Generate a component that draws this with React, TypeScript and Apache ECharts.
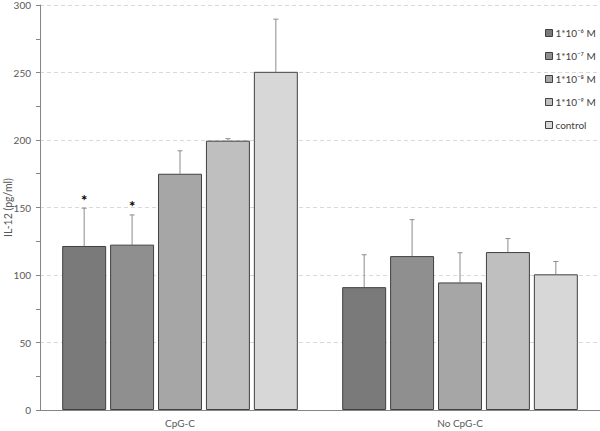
import React, { useEffect, useRef } from "react";
import * as echarts from "echarts";

const categories = ["CpG-C", "No CpG-C"];
const seriesNames = ["1*10⁻⁶ M", "1*10⁻⁷ M", "1*10⁻⁸ M", "1*10⁻⁹ M", "control"];
const means = [
  [121.5, 91],
  [122.5, 114],
  [175, 94.5],
  [199.5, 117],
  [250.5, 100.5],
];
const errUpper = [
  [149.5, 115],
  [144.5, 141],
  [192, 116.5],
  [201, 127],
  [289.5, 110],
];
const significant = [
  [true, false],
  [true, false],
  [false, false],
  [false, false],
  [false, false],
];
const colors = ["#7a7a7a", "#8f8f8f", "#a6a6a6", "#bfbfbf", "#d7d7d7"];
const yTicks = { min: 0, max: 300, interval: 50 };

const FONT = "Lato, 'Open Sans', sans-serif";
const BAR_W = 0.157;
const GAP = 0.09;

export default function App() {
  const ref = useRef<HTMLDivElement>(null);
  useEffect(() => {
    if (!ref.current) return;
    const chart = echarts.init(ref.current, undefined, { renderer: "svg" });
    const barSeries = seriesNames.map((name, i) => ({
      type: "bar",
      name,
      data: means[i],
      barWidth: BAR_W * 100 + "%",
      barGap: GAP * 100 + "%",
      itemStyle: { color: colors[i], borderColor: "#404040", borderWidth: 1 },
      z: 2,
    }));
    const errSeries = seriesNames.map((name, i) => ({
      type: "custom",
      name: name + "_err",
      data: means[i].map((m, j) => [j, m, errUpper[i][j], significant[i][j] ? 1 : 0]),
      z: 1,
      renderItem: (params: any, api: any) => {
        const cat = api.value(0);
        const base = api.coord([cat, api.value(1)]);
        const top = api.coord([cat, api.value(2)]);
        const band = api.size([1, 0])[0];
        const bw = band * BAR_W;
        const x = base[0] + (i - 2) * bw * (1 + GAP);
        const children: any[] = [
          {
            type: "line",
            shape: { x1: x, y1: base[1], x2: x, y2: top[1] },
            style: { stroke: "#8c8c8c", lineWidth: 1 },
          },
          {
            type: "line",
            shape: { x1: x - 2.5, y1: top[1], x2: x + 2.5, y2: top[1] },
            style: { stroke: "#8c8c8c", lineWidth: 1 },
          },
        ];
        if (api.value(3) === 1) {
          children.push({
            type: "text",
            style: {
              text: "*",
              x,
              y: top[1] - 1,
              align: "center",
              verticalAlign: "bottom",
              fill: "#000",
              font: "bold 15px " + FONT,
            },
          });
        }
        return { type: "group", children };
      },
    }));
    chart.setOption({
      animation: false,
      grid: { left: 40, right: 0, top: 5, bottom: 21, outerBoundsMode: "none", containLabel: false },
      legend: {
        data: seriesNames,
        orient: "vertical",
        left: 540,
        top: 23,
        itemWidth: 7,
        itemHeight: 7,
        itemGap: 13,
        icon: "rect",
        textStyle: { fontFamily: FONT, fontSize: 10, color: "#404040", padding: [0, 0, 0, -2] },
        itemStyle: { borderColor: "#404040", borderWidth: 1 },
      },
      xAxis: {
        type: "category",
        data: categories,
        axisLine: { lineStyle: { color: "#868686", width: 1 } },
        axisTick: { show: false },
        axisLabel: { fontFamily: FONT, fontSize: 10, color: "#595959", margin: 8 },
      },
      yAxis: {
        type: "value",
        min: yTicks.min,
        max: yTicks.max,
        interval: yTicks.interval,
        name: "IL-12 (pg/ml)",
        nameLocation: "middle",
        nameGap: 27,
        nameMoveOverlap: false,
        nameTextStyle: { fontFamily: FONT, fontSize: 10.5, color: "#595959" },
        axisLine: { show: true, lineStyle: { color: "#868686", width: 1 } },
        axisTick: { show: true, length: 4, lineStyle: { color: "#868686" } },
        minorTick: { show: true, splitNumber: 2, length: 4, lineStyle: { color: "#868686" } },
        axisLabel: { fontFamily: FONT, fontSize: 10, lineHeight: 10, color: "#595959", margin: 9 },
        splitLine: { show: true, lineStyle: { color: "#d9d9d9", type: [4, 3] } },
      },
      series: [...barSeries, ...errSeries],
    });
    return () => chart.dispose();
  }, []);
  return <div ref={ref} style={{ width: 600, height: 431, position: "absolute", left: 0, top: 0 }} />;
}
